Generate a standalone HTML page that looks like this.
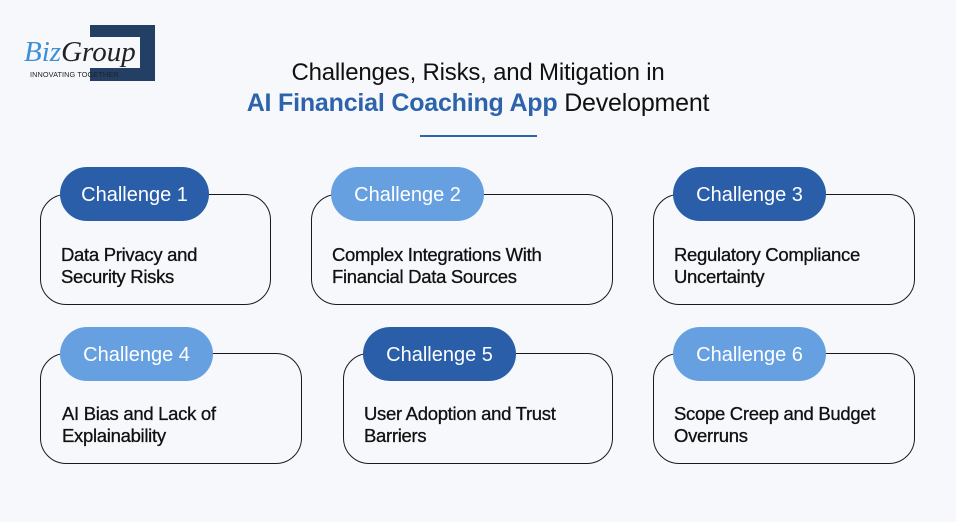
<!DOCTYPE html>
<html><head><meta charset="utf-8"><style>
body{margin:0;width:956px;height:522px;background:#f7f8fb;position:relative;overflow:hidden;font-family:"Liberation Sans",sans-serif;}
.box{position:absolute;border:1.3px solid #1a1a1a;border-radius:26px;box-sizing:border-box;height:111px;}
.pill{position:absolute;height:54px;border-radius:27px;color:#fff;font-size:20px;line-height:56px;text-align:center;}
.d{background:#2a5ea9}.l{background:#67a0e0}
.t{position:absolute;font-size:18.5px;line-height:22px;color:#111;letter-spacing:-0.3px;-webkit-text-stroke:0.3px #111;}
.title{position:absolute;left:0;width:956px;text-align:center;font-size:24px;color:#111;letter-spacing:-0.2px;}
</style></head><body>
<div style="position:absolute;left:90px;top:25px;width:65px;height:56px;background:#233f63"></div>
<div style="position:absolute;left:90px;top:37px;width:50px;height:31px;background:#f7f8fb"></div>
<div style="position:absolute;left:24px;top:36px;font-family:'Liberation Serif',serif;font-style:italic;font-size:29px;color:#222;"><span style="color:#3d8fd6">Biz</span>Group</div>
<div style="position:absolute;left:30px;top:70px;font-size:7.3px;color:#222;letter-spacing:0.1px">INNOVATING TOGETHER</div>

<div class="title" style="top:59px">Challenges, Risks, and Mitigation in</div>
<div class="title" style="top:89px;font-size:25px"><b style="color:#2c63ab">AI Financial Coaching App</b> Development</div>
<div style="position:absolute;left:420px;top:135px;width:117px;height:2px;background:#2c63ab"></div>

<div class="box" style="left:40px;top:194px;width:231px"></div>
<div class="pill d" style="left:60px;top:167px;width:149px">Challenge 1</div>
<div class="t" style="left:61px;top:244px">Data Privacy and<br>Security Risks</div>

<div class="box" style="left:311px;top:194px;width:302px"></div>
<div class="pill l" style="left:331px;top:167px;width:153px">Challenge 2</div>
<div class="t" style="left:332px;top:244px">Complex Integrations With<br>Financial Data Sources</div>

<div class="box" style="left:653px;top:194px;width:262px"></div>
<div class="pill d" style="left:673px;top:167px;width:153px">Challenge 3</div>
<div class="t" style="left:674px;top:244px">Regulatory Compliance<br>Uncertainty</div>

<div class="box" style="left:40px;top:353px;width:262px"></div>
<div class="pill l" style="left:60px;top:327px;width:153px">Challenge 4</div>
<div class="t" style="left:62px;top:403px">AI Bias and Lack of<br>Explainability</div>

<div class="box" style="left:343px;top:353px;width:270px"></div>
<div class="pill d" style="left:363px;top:327px;width:153px">Challenge 5</div>
<div class="t" style="left:364px;top:403px">User Adoption and Trust<br>Barriers</div>

<div class="box" style="left:653px;top:353px;width:262px"></div>
<div class="pill l" style="left:673px;top:327px;width:153px">Challenge 6</div>
<div class="t" style="left:674px;top:403px">Scope Creep and Budget<br>Overruns</div>
</body></html>
